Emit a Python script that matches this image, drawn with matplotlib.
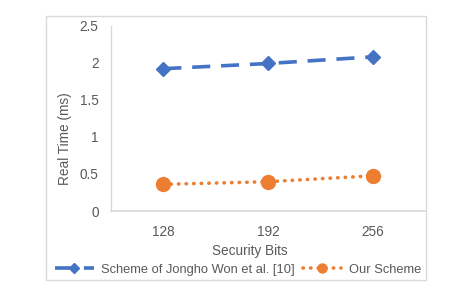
import matplotlib.pyplot as plt
from matplotlib.patches import Rectangle

# Data
bits = ["128", "192", "256"]
won_times = [1.92, 1.99, 2.08]
our_times = [0.36, 0.395, 0.475]

plt.rcParams['font.family'] = ['Liberation Sans', 'DejaVu Sans']
txt = "#595959"
fs = 9.8

fig = plt.figure(figsize=(4.58, 2.9), dpi=100)
ax = fig.add_axes([0.2424, 0.2724, 0.6856, 0.639])

# outer chart border
fig.patches.append(Rectangle((46 / 458, 10 / 290), 380 / 458, 264 / 290,
                             transform=fig.transFigure, fill=False,
                             edgecolor="#d9d9d9", linewidth=1))

x = range(len(bits))
ax.plot(x, won_times, color="#4472C4", linewidth=2.6, linestyle=(0, (5, 3)),
        marker="D", markersize=7.5, label="Scheme of Jongho Won et al. [10]")
ax.plot(x, our_times, color="#ED7D31", linewidth=2.6, linestyle=(0, (0.1, 2.0)),
        dash_capstyle="round", marker="o", markersize=10, label="Our Scheme")

ax.set_xlim(-0.5, 2.5)
ax.set_ylim(0, 2.5)
ax.set_xticks(list(x))
ax.set_xticklabels(bits)
ax.set_yticks([0, 0.5, 1, 1.5, 2, 2.5])
ax.set_yticklabels(["0", "0.5", "1", "1.5", "2", "2.5"])
ax.tick_params(length=0, labelsize=fs, colors=txt)
ax.tick_params(axis="x", pad=10)
ax.tick_params(axis="y", pad=9)

for side in ["top", "right"]:
    ax.spines[side].set_visible(False)
ax.spines["left"].set_color("#d9d9d9")
ax.spines["bottom"].set_color("#d9d9d9")
ax.spines["left"].set_linewidth(1)
ax.spines["bottom"].set_linewidth(1.2)

ax.set_xlabel("Security Bits", fontsize=fs, color=txt)
ax.set_ylabel("Real Time (ms)", fontsize=fs, color=txt)
ax.xaxis.set_label_coords(0.443, -0.18)
ax.yaxis.set_label_coords(-0.125, 0.389)

leg = fig.legend(loc="center", bbox_to_anchor=(0.52, 0.069), ncol=2, frameon=False,
                 fontsize=9.3, handlelength=3.0, columnspacing=0.6, handletextpad=0.6,
                 markerscale=0.65, labelcolor=txt)

fig.savefig("out.png", dpi=100)
